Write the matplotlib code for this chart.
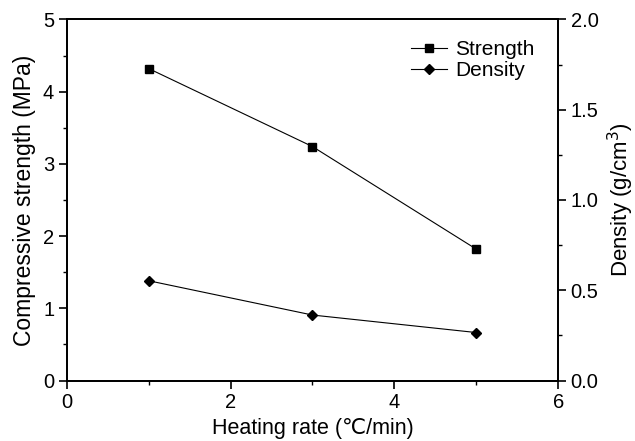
import matplotlib
matplotlib.use('Agg')
import matplotlib.pyplot as plt
from matplotlib.ticker import MultipleLocator

plt.rcParams['font.family'] = ['Liberation Sans', 'DejaVu Sans']
plt.rcParams['font.size'] = 14.5

# heating rate (C/min)
heating_rate = [1, 3, 5]
# compressive strength (MPa)
strength = [4.32, 3.24, 1.82]
# density (g/cm3)
density = [0.553, 0.363, 0.266]

fig, ax = plt.subplots(figsize=(6.35, 4.41), dpi=100)
fig.subplots_adjust(left=0.105, right=0.879, top=0.956, bottom=0.137)
ax2 = ax.twinx()

l1, = ax.plot(heating_rate, strength, color='black', lw=0.8, marker='s', markersize=5.5, label='Strength')
l2, = ax2.plot(heating_rate, density, color='black', lw=0.8, marker='D', markersize=5.5, label='Density')

ax.set_xlim(0, 6)
ax.set_ylim(0, 5)
ax2.set_ylim(0, 2.0)
ax.xaxis.set_major_locator(MultipleLocator(2))
ax.xaxis.set_minor_locator(MultipleLocator(1))
ax.yaxis.set_major_locator(MultipleLocator(1))
ax.yaxis.set_minor_locator(MultipleLocator(0.5))
ax2.yaxis.set_major_locator(MultipleLocator(0.5))
ax2.yaxis.set_minor_locator(MultipleLocator(0.25))
ax2.yaxis.set_major_formatter(plt.FormatStrFormatter('%.1f'))

for a in (ax, ax2):
    a.tick_params(which='major', direction='out', length=6, width=1.2, labelsize=14.5, pad=3)
    a.tick_params(which='minor', direction='out', length=3, width=1.0)
    for s in a.spines.values():
        s.set_linewidth(1.3)
ax.tick_params(top=False, which='both')

ax.set_xlabel('Heating rate (\u2103/min)', fontsize=15.5, labelpad=4)
ax.set_ylabel('Compressive strength (MPa)', fontsize=16.5, labelpad=5)
ax2.set_ylabel('Density (g/cm$^3$)', fontsize=16, labelpad=5)

ax.legend([l1, l2], ['Strength', 'Density'], loc='upper right', frameon=False,
          bbox_to_anchor=(0.99, 0.995), handlelength=1.7, handletextpad=0.4,
          labelspacing=0.1, fontsize=15)

fig.savefig('out.png', dpi=100)
